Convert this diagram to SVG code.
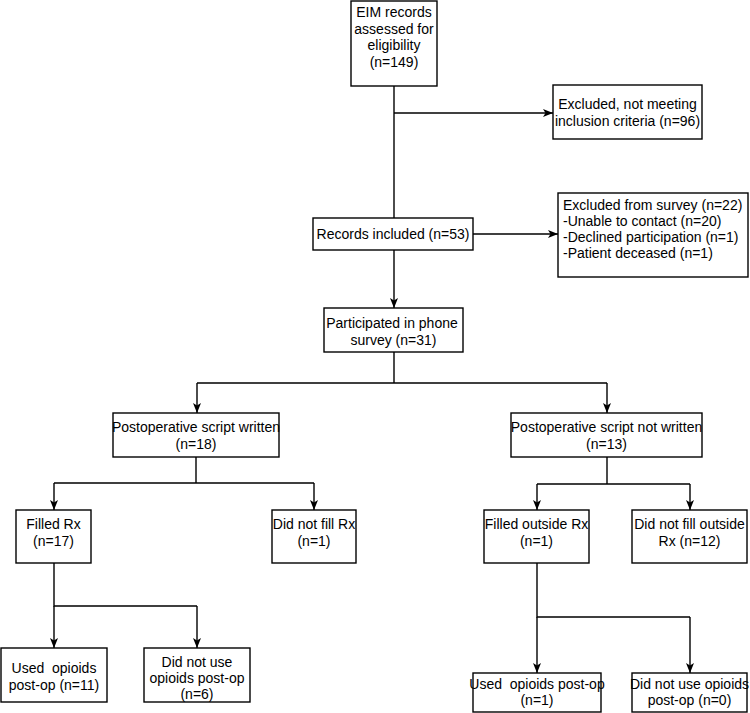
<svg xmlns="http://www.w3.org/2000/svg" width="750" height="713" viewBox="0 0 750 713">
<defs>
<style>
.box{fill:#fff;stroke:#000;stroke-width:1.4}
.t{font-family:"Liberation Sans",Arial,sans-serif;font-size:14px;fill:#000;text-anchor:middle;white-space:pre}
.tl{text-anchor:start}
.c{fill:none;stroke:#000;stroke-width:1.4}
</style>
<marker id="ah" markerUnits="userSpaceOnUse" markerWidth="10" markerHeight="10" viewBox="0 0 10 10" refX="10" refY="5" orient="auto">
<path d="M0,1 L10,5 L0,9 L2.5,5 z" fill="#000"/>
</marker>
</defs>
<rect width="750" height="713" fill="#fff"/>
<g id="connectors">
<path class="c" d="M394,86 V218"/>
<path class="c" d="M394,113 H553" marker-end="url(#ah)"/>
<path class="c" d="M473,234 H558" marker-end="url(#ah)"/>
<path class="c" d="M394,250 V308" marker-end="url(#ah)"/>
<path class="c" d="M394,352 V383 M197,383 H607"/>
<path class="c" d="M197,383 V413" marker-end="url(#ah)"/>
<path class="c" d="M607,383 V413" marker-end="url(#ah)"/>
<path class="c" d="M196,457 V483 M54,483 H314"/>
<path class="c" d="M54,483 V510" marker-end="url(#ah)"/>
<path class="c" d="M314,483 V510" marker-end="url(#ah)"/>
<path class="c" d="M607,457 V484 M537,484 H690"/>
<path class="c" d="M537,484 V510" marker-end="url(#ah)"/>
<path class="c" d="M690,484 V510" marker-end="url(#ah)"/>
<path class="c" d="M54,563 V606 H197"/>
<path class="c" d="M54,606 V648" marker-end="url(#ah)"/>
<path class="c" d="M197,606 V648" marker-end="url(#ah)"/>
<path class="c" d="M537,563 V617 H690"/>
<path class="c" d="M537,617 V673" marker-end="url(#ah)"/>
<path class="c" d="M690,617 V673" marker-end="url(#ah)"/>
</g>
<g id="eim">
<rect class="box" x="351" y="1" width="86" height="85"/>
<text class="t" x="394" y="17">EIM records</text>
<text class="t" x="394" y="33.5">assessed for</text>
<text class="t" x="394" y="50">eligibility</text>
<text class="t" x="394" y="66.5">(n=149)</text>
</g>
<g id="excluded1">
<rect class="box" x="553" y="85" width="149" height="54"/>
<text class="t" x="627.5" y="109">Excluded, not meeting</text>
<text class="t" x="627.5" y="126">inclusion criteria (n=96)</text>
</g>
<g id="records">
<rect class="box" x="313" y="218" width="160" height="32"/>
<text class="t" x="393" y="239">Records included (n=53)</text>
</g>
<g id="excluded2">
<rect class="box" x="558" y="193" width="190" height="84"/>
<text class="t tl" x="563" y="210">Excluded from survey (n=22)</text>
<text class="t tl" x="563" y="226">-Unable to contact (n=20)</text>
<text class="t tl" x="563" y="242">-Declined participation (n=1)</text>
<text class="t tl" x="563" y="258">-Patient deceased (n=1)</text>
</g>
<g id="participated">
<rect class="box" x="324" y="308" width="139" height="44"/>
<text class="t" x="392" y="328">Participated in phone</text>
<text class="t" x="393.5" y="345">survey (n=31)</text>
</g>
<g id="written">
<rect class="box" x="113" y="413" width="166" height="44"/>
<text class="t" x="196" y="432">Postoperative script written</text>
<text class="t" x="196" y="449">(n=18)</text>
</g>
<g id="notwritten">
<rect class="box" x="511" y="413" width="191" height="44"/>
<text class="t" x="606.5" y="432">Postoperative script not written</text>
<text class="t" x="606.5" y="449">(n=13)</text>
</g>
<g id="filledrx">
<rect class="box" x="16" y="510" width="75" height="53"/>
<text class="t" x="53.5" y="529">Filled Rx</text>
<text class="t" x="53.5" y="546">(n=17)</text>
</g>
<g id="didnotfill">
<rect class="box" x="272" y="510" width="84" height="53"/>
<text class="t" x="314" y="529">Did not fill Rx</text>
<text class="t" x="314" y="546">(n=1)</text>
</g>
<g id="filledoutside">
<rect class="box" x="484" y="510" width="105" height="53"/>
<text class="t" x="536.5" y="529">Filled outside Rx</text>
<text class="t" x="536.5" y="546">(n=1)</text>
</g>
<g id="didnotfilloutside">
<rect class="box" x="632" y="510" width="115" height="53"/>
<text class="t" x="689.5" y="529">Did not fill outside</text>
<text class="t" x="689.5" y="546">Rx (n=12)</text>
</g>
<g id="used11">
<rect class="box" x="1" y="648" width="106" height="54"/>
<text class="t" x="54" y="673">Used  opioids</text>
<text class="t" x="54" y="690">post-op (n=11)</text>
</g>
<g id="notused6">
<rect class="box" x="144" y="648" width="106" height="54"/>
<text class="t" x="197" y="667">Did not use</text>
<text class="t" x="197" y="683">opioids post-op</text>
<text class="t" x="197" y="699">(n=6)</text>
</g>
<g id="used1">
<rect class="box" x="473" y="673" width="128" height="39"/>
<text class="t" x="537" y="689">Used  opioids post-op</text>
<text class="t" x="537" y="705">(n=1)</text>
</g>
<g id="notused0">
<rect class="box" x="632" y="673" width="115" height="39"/>
<text class="t" x="689.5" y="689">Did not use opioids</text>
<text class="t" x="689.5" y="705">post-op (n=0)</text>
</g>
</svg>
